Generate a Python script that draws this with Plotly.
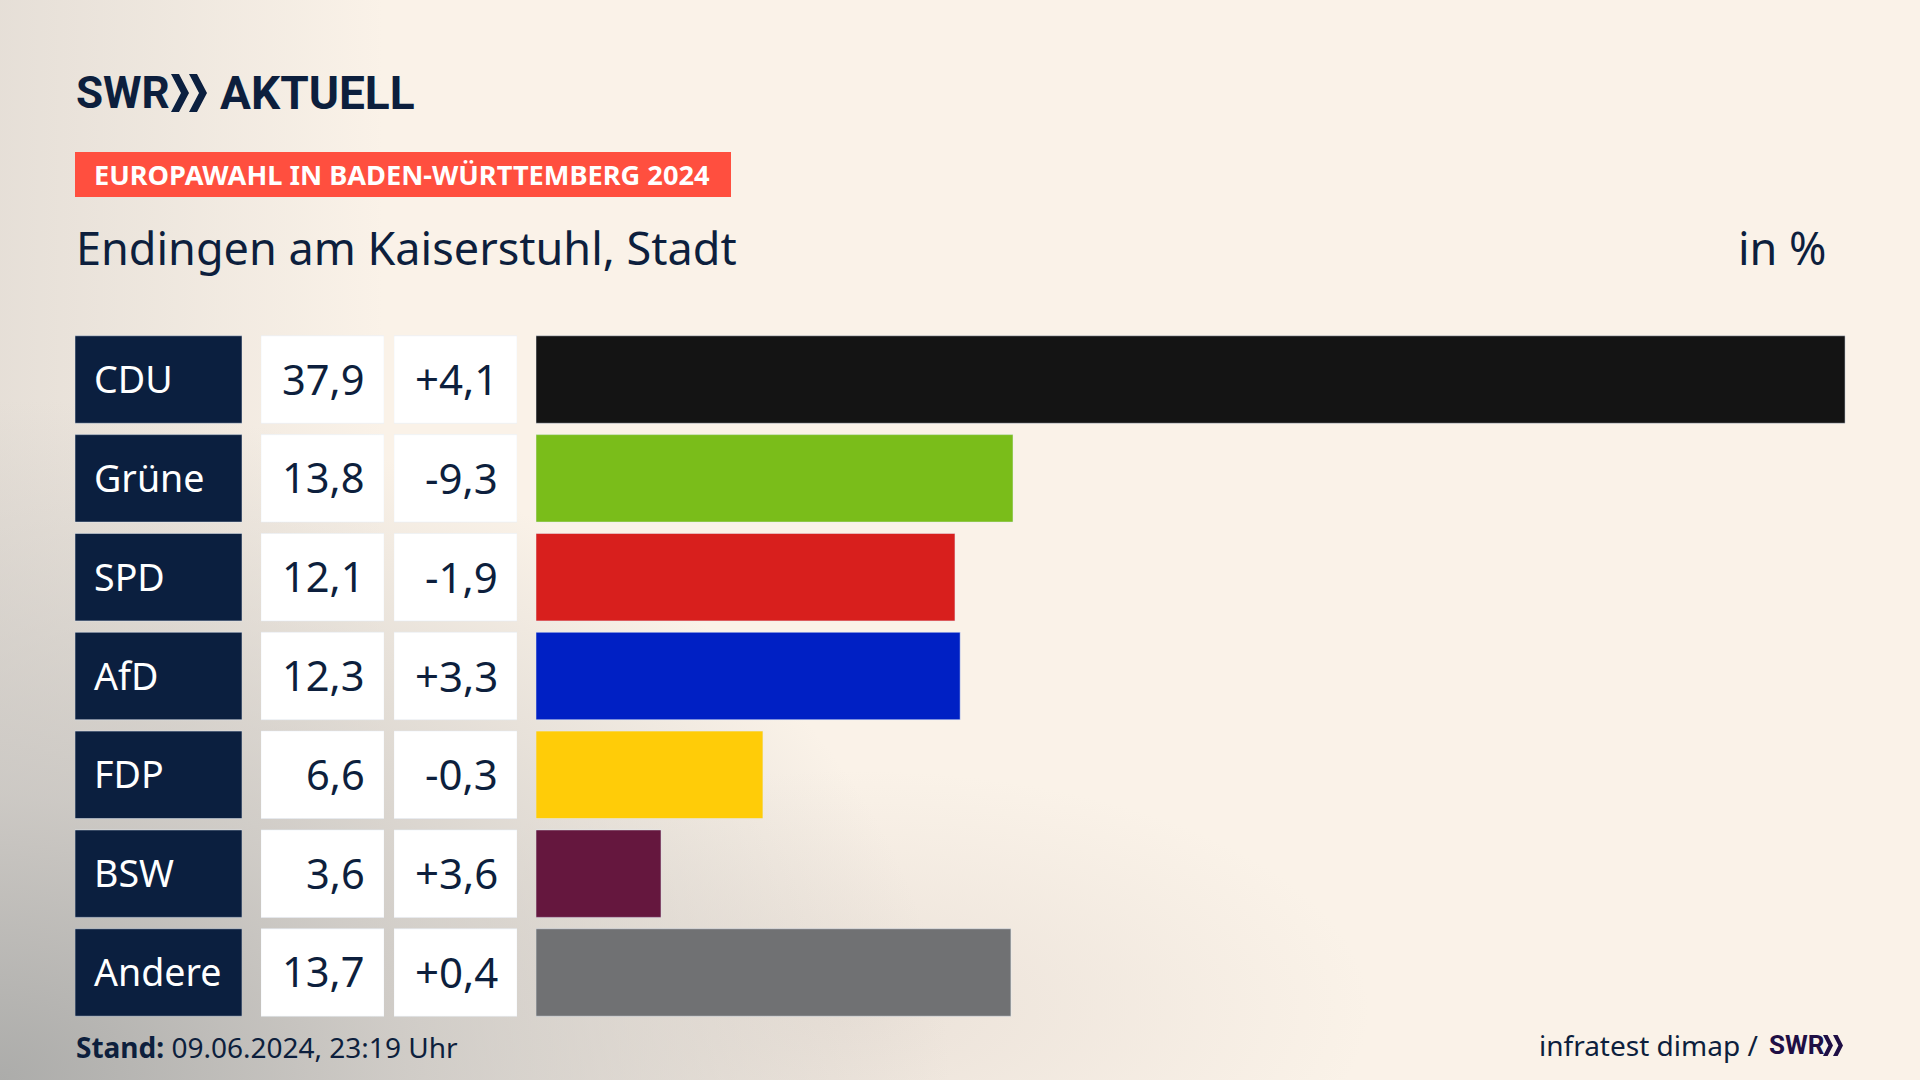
import plotly.graph_objects as go

W, H = 1920, 1080

parties = ["CDU", "Grüne", "SPD", "AfD", "FDP", "BSW", "Andere"]
shares = [37.9, 13.8, 12.1, 12.3, 6.6, 3.6, 13.7]
changes = [4.1, -9.3, -1.9, 3.3, -0.3, 3.6, 0.4]
# bar lengths as measured on the picture, the labels above are rounded
bar_lengths = [37.9, 13.81, 12.13, 12.28, 6.57, 3.62, 13.75]
bar_colors = ["#141414", "#7abd1a", "#d81f1d", "#0020c4", "#ffcc08", "#65173e", "#707173"]

NAVY = "#0b1f3f"
INK = "#0d1f3d"
FONT = "Noto Sans"
LOGO_FONT = "Roboto"

BACKGROUND = (
    "radial-gradient(ellipse 950px 680px at 0% 100%, rgba(172,172,170,1) 0%, "
    "rgba(200,197,193,.85) 42%, rgba(235,227,218,0) 100%),"
    "radial-gradient(ellipse 520px 240px at 850px 1010px, rgba(222,212,204,.55) 0%, rgba(250,242,232,0) 100%),"
    "linear-gradient(90deg, rgba(205,200,195,.45) 0%, rgba(250,242,232,0) 20%),"
    "#faf2e8"
)


def px(x):
    return x / W


def py(y):
    return 1 - y / H


def chevrons(x, top, bottom, width, stroke):
    # the two arrow heads of the SWR logo, as one svg path in paper coords
    mid = (top + bottom) / 2
    path = ""
    for left in (x, x + width):
        pts = [(left, top), (left + stroke, top), (left + width, mid),
               (left + stroke, bottom), (left, bottom), (left + width - stroke, mid)]
        path += "M" + " L".join(f"{px(a):.5f},{py(b):.5f}" for a, b in pts) + " Z "
    return path


def fmt(value, sign=False):
    text = f"{value:+.1f}" if sign else f"{value:.1f}"
    return text.replace(".", ",")


fig = go.Figure()

# one x axis per column, all on the same category axis
fig.add_trace(go.Bar(y=parties, x=[1] * 7, orientation="h", width=0.885, marker_color=NAVY,
                     xaxis="x2", hoverinfo="skip"))
fig.add_trace(go.Bar(y=parties, x=[1] * 7, orientation="h", width=0.885, marker_color="white",
                     xaxis="x3", hoverinfo="skip"))
fig.add_trace(go.Bar(y=parties, x=[1] * 7, orientation="h", width=0.885, marker_color="white",
                     xaxis="x4", hoverinfo="skip"))
fig.add_trace(go.Bar(y=parties, x=bar_lengths, orientation="h", width=0.885, marker_color=bar_colors,
                     xaxis="x", hoverinfo="skip"))

annotations = []
for party, share, change in zip(parties, shares, changes):
    annotations.append(dict(x=0, xref="x2", y=party, yref="y", text=party, xanchor="left", xshift=17, yshift=1,
                            showarrow=False, font=dict(family=FONT, size=37.6, color="white")))
    annotations.append(dict(x=1, xref="x3", y=party, yref="y", text=fmt(share), xanchor="right", xshift=-17, yshift=1,
                            showarrow=False, font=dict(family=FONT, size=41.6, color=INK)))
    annotations.append(dict(x=1, xref="x4", y=party, yref="y", text=fmt(change, True), xanchor="right", xshift=-17, yshift=1,
                            showarrow=False, font=dict(family=FONT, size=42, color=INK)))


def note(x, y, text, size, color=INK, family=FONT, anchor="left"):
    annotations.append(dict(x=px(x), y=py(y), xref="paper", yref="paper", text=text, xanchor=anchor,
                            yanchor="middle", showarrow=False, font=dict(family=family, size=size, color=color)))


note(74, 93, "<b>SWR</b>", 44, family=LOGO_FONT)
note(218, 93, "<b>AKTUELL</b>", 46, family=LOGO_FONT)
note(92, 175, "<b>EUROPAWAHL IN BADEN-WÜRTTEMBERG 2024</b>", 27.2, color="white")
note(74, 247, "Endingen am Kaiserstuhl, Stadt", 45)
note(1829, 247, "in %", 45, anchor="right")
note(74, 1047, "<b>Stand:</b> 09.06.2024, 23:19 Uhr", 28)
note(1537, 1045, "infratest dimap /", 28)
note(1767, 1045, "<b>SWR</b>", 26, color="#1f0f45", family=LOGO_FONT)

fig.update_layout(
    width=W,
    height=H,
    margin=dict(l=0, r=0, t=0, b=0),
    paper_bgcolor="rgba(0,0,0,0)",
    plot_bgcolor="rgba(0,0,0,0)",
    showlegend=False,
    annotations=annotations,
    yaxis=dict(domain=[py(1021.9), py(330.1)], range=[6.5, -0.5], type="category",
               categoryorder="array", categoryarray=parties, visible=False),
    xaxis=dict(domain=[px(536), 1], range=[0, (W - 536) / 34.54], visible=False, anchor="y"),
    xaxis2=dict(domain=[px(75), px(242)], range=[0, 1], visible=False, anchor="y"),
    xaxis3=dict(domain=[px(261), px(384)], range=[0, 1], visible=False, anchor="y"),
    xaxis4=dict(domain=[px(394), px(517)], range=[0, 1], visible=False, anchor="y"),
    shapes=[
        dict(type="rect", xref="paper", yref="paper", x0=px(75), x1=px(731), y0=py(197), y1=py(152),
             fillcolor="#ff4f3f", line_width=0, layer="below"),
        dict(type="path", xref="paper", yref="paper", path=chevrons(171, 74, 112, 18, 8),
             fillcolor=NAVY, line_width=0),
        dict(type="path", xref="paper", yref="paper", path=chevrons(1823, 1035, 1056, 10, 4.6),
             fillcolor="#1f0f45", line_width=0),
    ],
)

page_style = f"""
document.documentElement.style.height = '100%';
document.documentElement.style.overflow = 'hidden';
document.body.style.margin = '0';
document.body.style.height = '100%';
document.body.style.background = "{BACKGROUND}";
"""

fig.write_html("out.html", post_script=page_style, config={"displayModeBar": False})
